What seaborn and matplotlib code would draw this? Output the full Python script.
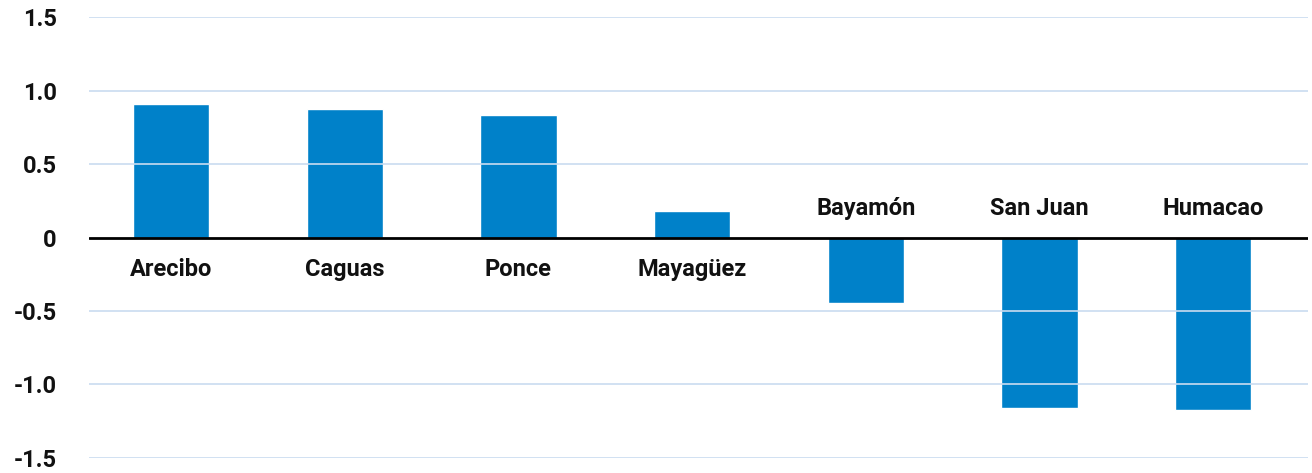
import matplotlib
matplotlib.use("Agg")
import matplotlib.pyplot as plt
import seaborn as sns
import pandas as pd

# values
regions = ["Arecibo", "Caguas", "Ponce", "Mayagüez", "Bayamón", "San Juan", "Humacao"]
values = [0.91, 0.875, 0.835, 0.178, -0.448, -1.164, -1.177]
yticks = [-1.5, -1.0, -0.5, 0, 0.5, 1.0, 1.5]
ytick_labels = ["-1.5", "-1.0", "-0.5", "0", "0.5", "1.0", "1.5"]

sns.set_theme(style="white")
plt.rcParams["font.family"] = ["Roboto", "DejaVu Sans"]

df = pd.DataFrame({"region": regions, "value": values})

fig = plt.figure(figsize=(13.12, 4.73), dpi=100)
ax = fig.add_axes([0.0676, 0.0323, 0.9294, 0.9311])

sns.barplot(data=df, x="region", y="value", color="#0081c9", saturation=1,
            width=0.44, ax=ax, zorder=2)

ax.set_ylim(-1.5, 1.5)
ax.set_xlim(-0.474, 6.546)
ax.set_yticks(yticks)
ax.set_yticklabels(ytick_labels, fontsize=17, fontweight="bold", color="#111111")
ax.tick_params(axis="y", length=0, pad=23)
ax.set_xticks([])
ax.set_xlabel("")
ax.set_ylabel("")

# light blue grid drawn over the bars
for t in yticks:
    if t != 0:
        ax.axhline(t, color="#c9dcf0", lw=1.2, zorder=3)
ax.axhline(0, color="black", lw=2, zorder=4)

for spine in ax.spines.values():
    spine.set_visible(False)

# category labels on the opposite side of the zero line
for i, (name, v) in enumerate(zip(regions, values)):
    off = -0.22 if v >= 0 else 0.2
    ax.text(i, off, name, ha="center", va="center", fontsize=17,
            fontweight="bold", color="#111111")

fig.savefig("out.png", dpi=100)
